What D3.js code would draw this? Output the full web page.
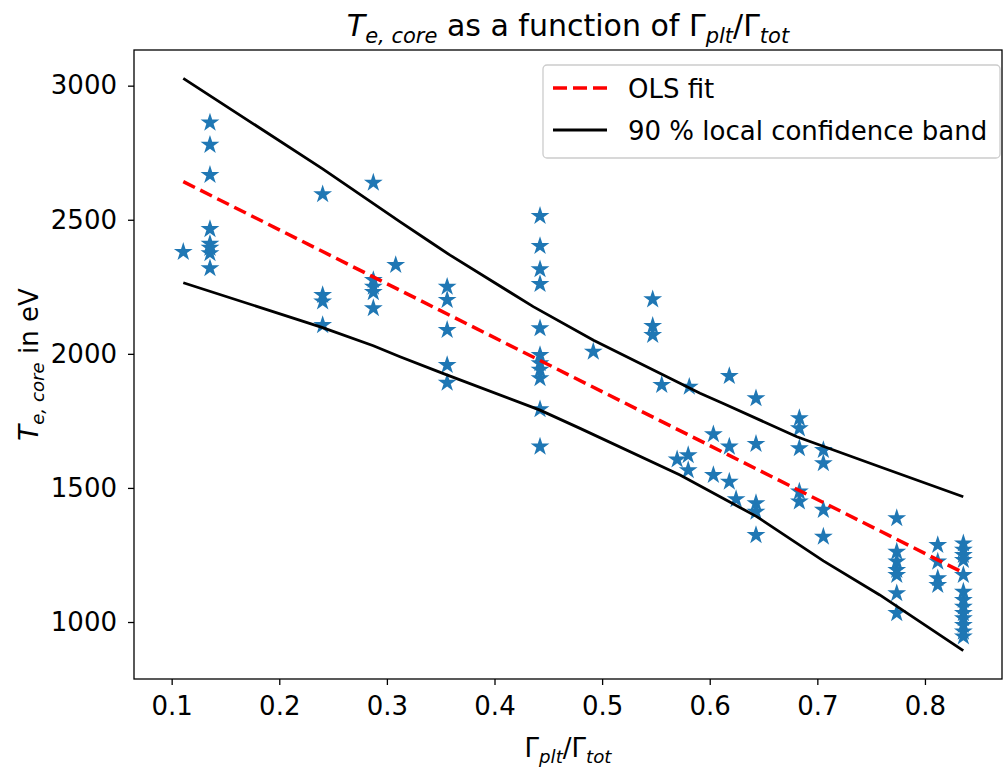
<!DOCTYPE html>
<html lang="en">
<head>
<meta charset="UTF-8" />
<title>Te,core vs Gamma ratio</title>
<script src="https://cdn.jsdelivr.net/npm/d3@7"></script>
<style>
  body { margin: 0; background: #fff; }
  svg { font-family: "DejaVu Sans", sans-serif; }
</style>
</head>
<body>
<div class="chart"></div>
<script>
// x position of each column of stars and the T_e,core values in it (eV)
const colX = [0.1108, 0.1356, 0.2403, 0.2874, 0.3082, 0.356, 0.4423, 0.4918,
  0.547, 0.5554, 0.5697, 0.580, 0.581, 0.6034, 0.6182, 0.6245, 0.643,
  0.6833, 0.7056, 0.7738, 0.8119, 0.8357];
const colY = [
  [2380],
  [2862, 2779, 2667, 2465, 2410, 2395, 2375, 2319],
  [2595, 2219, 2195, 2107],
  [2638, 2275, 2250, 2230, 2170],
  [2331],
  [2250, 2201, 2089, 1958, 1892],
  [2514, 2402, 2315, 2260, 2095, 1995, 1965, 1940, 1909, 1793, 1654],
  [2008],
  [2203, 2104, 2070],
  [1884],
  [1606],
  [1622, 1566],
  [1877],
  [1700, 1548],
  [1917, 1654, 1523],
  [1458],
  [1834, 1664, 1443, 1411, 1324],
  [1760, 1722, 1648, 1486, 1449],
  [1641, 1592, 1418, 1318],
  [1387, 1262, 1225, 1194, 1175, 1107, 1033],
  [1287, 1225, 1163, 1138],
  [1293, 1269, 1250, 1231, 1175, 1113, 1082, 1057, 1033, 1014, 989, 964, 946]
];

// OLS fit end points
const olsX = [0.1108, 0.8356];
const olsY = [2642, 1184];

// 90 % confidence band
const upperX = [0.1108, 0.2403, 0.312, 0.340, 0.3587, 0.436, 0.492, 0.591, 0.6126, 0.681, 0.758, 0.8356];
const upperY = [3027, 2690, 2493, 2418, 2368, 2176, 2051, 1853, 1815, 1691, 1579, 1467];
const lowerX = [0.1108, 0.2403, 0.2874, 0.3122, 0.352, 0.4423, 0.4795, 0.5724, 0.6437, 0.7056, 0.758, 0.8356];
const lowerY = [2265, 2098, 2030, 1989, 1927, 1790, 1722, 1548, 1393, 1228, 1101, 893];

const xTicks = [0.1, 0.2, 0.3, 0.4, 0.5, 0.6, 0.7, 0.8];
const yTicks = [1000, 1500, 2000, 2500, 3000];

const width = 1004;
const height = 771;
const m = { left: 134, right: 1002, top: 50, bottom: 679 };

const svg = d3.select(".chart")
  .append("svg")
  .attr("width", width)
  .attr("height", height)
  .attr("viewBox", [0, 0, width, height]);

const x = d3.scaleLinear().domain([0.065, 0.8716]).range([m.left, m.right]);
const y = d3.scaleLinear().domain([787.5, 3133]).range([m.bottom, m.top]);

// axes
const xAxis = d3.axisBottom(x).tickValues(xTicks).tickSize(6).tickPadding(12)
  .tickFormat(d3.format(".1f"));
const yAxis = d3.axisLeft(y).tickValues(yTicks).tickSize(6).tickPadding(11)
  .tickFormat(d3.format("d"));

const gx = svg.append("g")
  .attr("transform", `translate(0, ${m.bottom})`)
  .call(xAxis);
const gy = svg.append("g")
  .attr("transform", `translate(${m.left}, 0)`)
  .call(yAxis);

[gx, gy].forEach((g) => {
  g.select(".domain").remove();
  g.selectAll(".tick line").attr("stroke", "#000").attr("stroke-width", 1.3);
  g.selectAll(".tick text")
    .attr("fill", "#000")
    .style("font-family", "DejaVu Sans")
    .style("font-size", "26px");
});

// stars
const points = [];
colX.forEach((cx, i) => colY[i].forEach((v) => points.push({ x: cx, y: v })));

const star = d3.symbol().type(d3.symbolStar).size(110);

svg.append("g")
  .selectAll("path")
  .data(points)
  .enter()
  .append("path")
  .attr("d", star)
  .attr("transform", (d) => `translate(${x(d.x)}, ${y(d.y)})`)
  .attr("fill", "#1f77b4");

const line = d3.line().x((d) => x(d[0])).y((d) => y(d[1]));

svg.append("path")
  .datum(d3.zip(olsX, olsY))
  .attr("d", line)
  .attr("fill", "none")
  .attr("stroke", "red")
  .attr("stroke-width", 3.5)
  .attr("stroke-dasharray", "13,6");

svg.append("path")
  .datum(d3.zip(upperX, upperY))
  .attr("d", line)
  .attr("fill", "none")
  .attr("stroke", "#000")
  .attr("stroke-width", 2.8);

svg.append("path")
  .datum(d3.zip(lowerX, lowerY))
  .attr("d", line)
  .attr("fill", "none")
  .attr("stroke", "#000")
  .attr("stroke-width", 2.8);

// frame
svg.append("rect")
  .attr("x", m.left)
  .attr("y", m.top)
  .attr("width", m.right - m.left)
  .attr("height", m.bottom - m.top)
  .attr("fill", "none")
  .attr("stroke", "#000")
  .attr("stroke-width", 1.3);

// legend
const legend = svg.append("g");
legend.append("rect")
  .attr("x", 543)
  .attr("y", 65)
  .attr("width", 457)
  .attr("height", 93)
  .attr("rx", 4)
  .attr("fill", "#fff")
  .attr("fill-opacity", 0.8)
  .attr("stroke", "#ccc")
  .attr("stroke-width", 1.3);

legend.append("line")
  .attr("x1", 553).attr("x2", 607)
  .attr("y1", 88).attr("y2", 88)
  .attr("stroke", "red")
  .attr("stroke-width", 3.5)
  .attr("stroke-dasharray", "14,6");
legend.append("line")
  .attr("x1", 553).attr("x2", 607)
  .attr("y1", 130).attr("y2", 130)
  .attr("stroke", "#000")
  .attr("stroke-width", 2.8);

legend.append("text").attr("x", 628).attr("y", 98)
  .style("font-size", "26px").text("OLS fit");
legend.append("text").attr("x", 628).attr("y", 140)
  .style("font-size", "26px").text("90 % local confidence band");

// math-like label helper: parts of [text, italic, subscript]
function mathText(sel, parts, size) {
  let shifted = false;
  parts.forEach(([t, it, sub]) => {
    const ts = sel.append("tspan").text(t);
    if (it) ts.attr("font-style", "italic");
    if (sub && !shifted) { ts.attr("dy", size * 0.22); shifted = true; }
    if (!sub && shifted) { ts.attr("dy", -size * 0.22); shifted = false; }
    ts.style("font-size", (sub ? size * 0.7 : size) + "px");
  });
}

// title
const title = svg.append("text")
  .attr("x", (m.left + m.right) / 2)
  .attr("y", 36)
  .attr("text-anchor", "middle");
mathText(title, [["T", true, false], ["e, core", true, true],
  [" as a function of Γ", false, false], ["plt", true, true],
  ["/Γ", false, false], ["tot", true, true]], 30);

// x label
const xl = svg.append("text")
  .attr("x", (m.left + m.right) / 2)
  .attr("y", 757)
  .attr("text-anchor", "middle");
mathText(xl, [["Γ", false, false], ["plt", true, true],
  ["/Γ", false, false], ["tot", true, true]], 26);

// y label
const yl = svg.append("text")
  .attr("transform", `translate(38, ${(m.top + m.bottom) / 2}) rotate(-90)`)
  .attr("text-anchor", "middle");
mathText(yl, [["T", true, false], ["e, core", true, true],
  [" in eV", false, false]], 26);
</script>
</body>
</html>
